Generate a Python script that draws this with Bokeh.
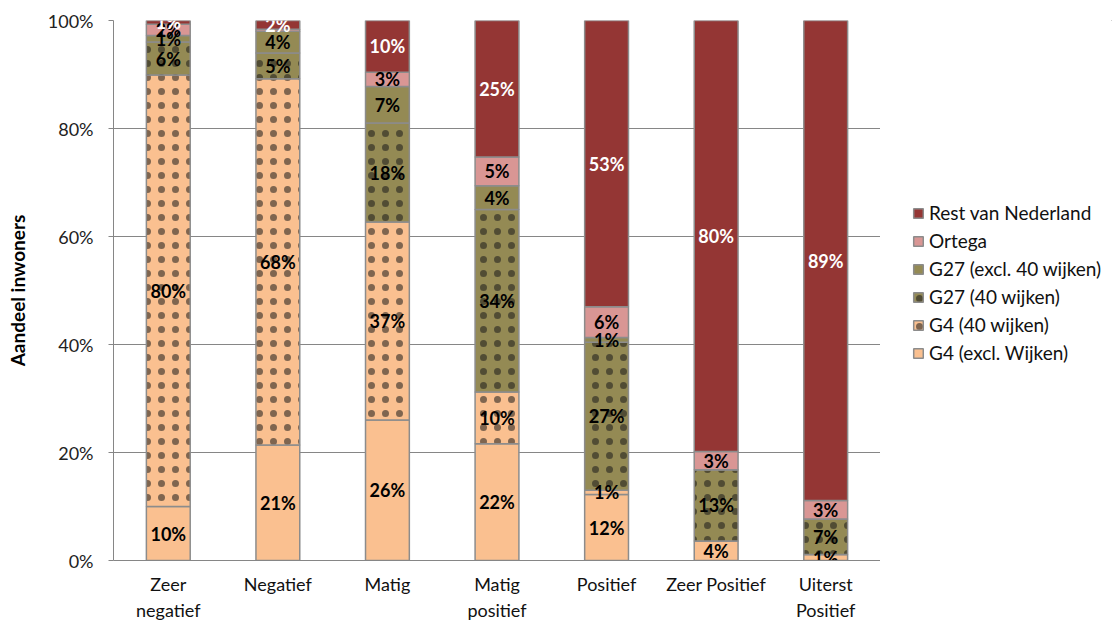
from bokeh.plotting import figure
from bokeh.layouts import row
from bokeh.models import ColumnDataSource, Legend, LegendItem, PrintfTickFormatter, FactorRange, FixedTicker
from bokeh.embed import file_html
from bokeh.resources import INLINE
from bokeh.core.properties import value

categories = ["Zeer\nnegatief", "Negatief", "Matig", "Matig\npositief", "Positief", "Zeer Positief", "Uiterst\nPositief"]

series_names = ["G4 (excl. Wijken)", "G4 (40 wijken)", "G27 (40 wijken)",
                "G27 (excl. 40 wijken)", "Ortega", "Rest van Nederland"]

g4_excl = [10.0, 21.4, 26.0, 21.6, 12.2, 3.6, 1.1]
g4_40 = [79.9, 67.8, 36.7, 9.6, 0.8, 0.0, 0.0]
g27_40 = [6.1, 4.8, 18.3, 33.8, 27.4, 13.2, 6.6]
g27_excl = [1.2, 4.0, 6.8, 4.4, 0.9, 0.0, 0.0]
ortega = [2.1, 0.4, 2.6, 5.3, 5.7, 3.4, 3.4]
rest = [0.7, 1.6, 9.6, 25.3, 53.0, 79.8, 88.9]

y_ticks = [0, 20, 40, 60, 80, 100]

series_values = [g4_excl, g4_40, g27_40, g27_excl, ortega, rest]
fill_colors = ["#FAC090", "#FAC090", "#948A54", "#948A54", "#D99694", "#943634"]
hatches = [None, "dot", "dot", None, None, None]
label_colors = ["black", "black", "black", "black", "black", "white"]

FONT = "Lato"
H = 623

p = figure(x_range=FactorRange(*categories, range_padding=0), y_range=(0, 100),
           width=880, height=H, output_backend="svg", toolbar_location=None,
           min_border_left=113, min_border_right=0, min_border_top=20, min_border_bottom=H - 562)
p.outline_line_color = None
p.background_fill_color = "white"
p.border_fill_color = "white"


def style_kwargs(col, hat):
    kw = dict(fill_color=col, line_color="#8C8C8C", line_width=1.5)
    if hat:
        kw.update(hatch_pattern=hat, hatch_color="#1a1a1a", hatch_scale=14,
                  hatch_weight=0.6, hatch_alpha=0.55)
    return kw


bottoms = [0.0] * len(categories)
lab_x, lab_y, lab_t, lab_c = [], [], [], []
for name, vals, col, hat, lc in zip(series_names, series_values, fill_colors, hatches, label_colors):
    tops = [b + v for b, v in zip(bottoms, vals)]
    src = ColumnDataSource(dict(x=categories, bottom=bottoms, top=tops))
    p.vbar(x="x", bottom="bottom", top="top", width=0.4, source=src, **style_kwargs(col, hat))
    for c, b, v in zip(categories, bottoms, vals):
        if round(v) >= 1:
            lab_x.append(c)
            lab_y.append(b + v / 2)
            lab_t.append(f"{round(v)}%")
            lab_c.append(lc)
    bottoms = tops

lsrc = ColumnDataSource(dict(x=lab_x, y=lab_y, t=lab_t, c=lab_c))
p.text(x="x", y="y", text="t", source=lsrc, text_color="c", text_align="center",
       text_baseline="middle", text_font=value(FONT), text_font_style="bold",
       text_font_size="18px")

p.xgrid.grid_line_color = None
p.ygrid.grid_line_color = "#868686"
p.ygrid.grid_line_width = 1
p.yaxis.ticker = FixedTicker(ticks=y_ticks)
p.yaxis.formatter = PrintfTickFormatter(format="%d%%")
p.yaxis.axis_line_color = "#868686"
p.yaxis.major_tick_line_color = "#868686"
p.yaxis.major_tick_out = 5
p.yaxis.major_tick_in = 0
p.yaxis.minor_tick_line_color = None
p.yaxis.major_label_standoff = 15
p.yaxis.major_label_text_font = FONT
p.yaxis.major_label_text_font_size = "18px"
p.yaxis.major_label_text_color = "#222222"
p.yaxis.axis_label = "Aandeel inwoners"
p.yaxis.axis_label_text_font = FONT
p.yaxis.axis_label_text_font_style = "bold"
p.yaxis.axis_label_text_font_size = "19px"
p.yaxis.axis_label_text_color = "black"
p.yaxis.axis_label_standoff = 16

p.xaxis.axis_line_color = "#868686"
p.xaxis.major_tick_line_color = None
p.xaxis.minor_tick_line_color = None
p.xaxis.major_tick_out = 0
p.xaxis.major_tick_in = 0
p.xaxis.major_label_standoff = 12
p.xaxis.major_label_text_font = FONT
p.xaxis.major_label_text_font_size = "18px"
p.xaxis.major_label_text_color = "#111111"

# legend panel
leg = figure(width=232, height=H, output_backend="svg", toolbar_location=None,
             x_range=(0, 1), y_range=(0, 1), x_axis_type=None, y_axis_type=None,
             min_border=0)
leg.outline_line_color = None
leg.xgrid.visible = False
leg.ygrid.visible = False
items = []
for name, col, hat in zip(series_names, fill_colors, hatches):
    r = leg.vbar(x=[10], bottom=[10], top=[11], width=0.4, **style_kwargs(col, hat))
    items.append(LegendItem(label=name, renderers=[r]))
items.reverse()
legend = Legend(items=items, location=(32, 196), margin=0, padding=4,
                border_line_color=None, background_fill_alpha=0,
                label_text_font=FONT, label_text_font_size="19px", label_text_color="#111111",
                glyph_width=12, glyph_height=12, label_height=20, spacing=5,
                label_standoff=5)
leg.add_layout(legend)

layout = row(p, leg)
open("out.html", "w").write(file_html(layout, INLINE))
